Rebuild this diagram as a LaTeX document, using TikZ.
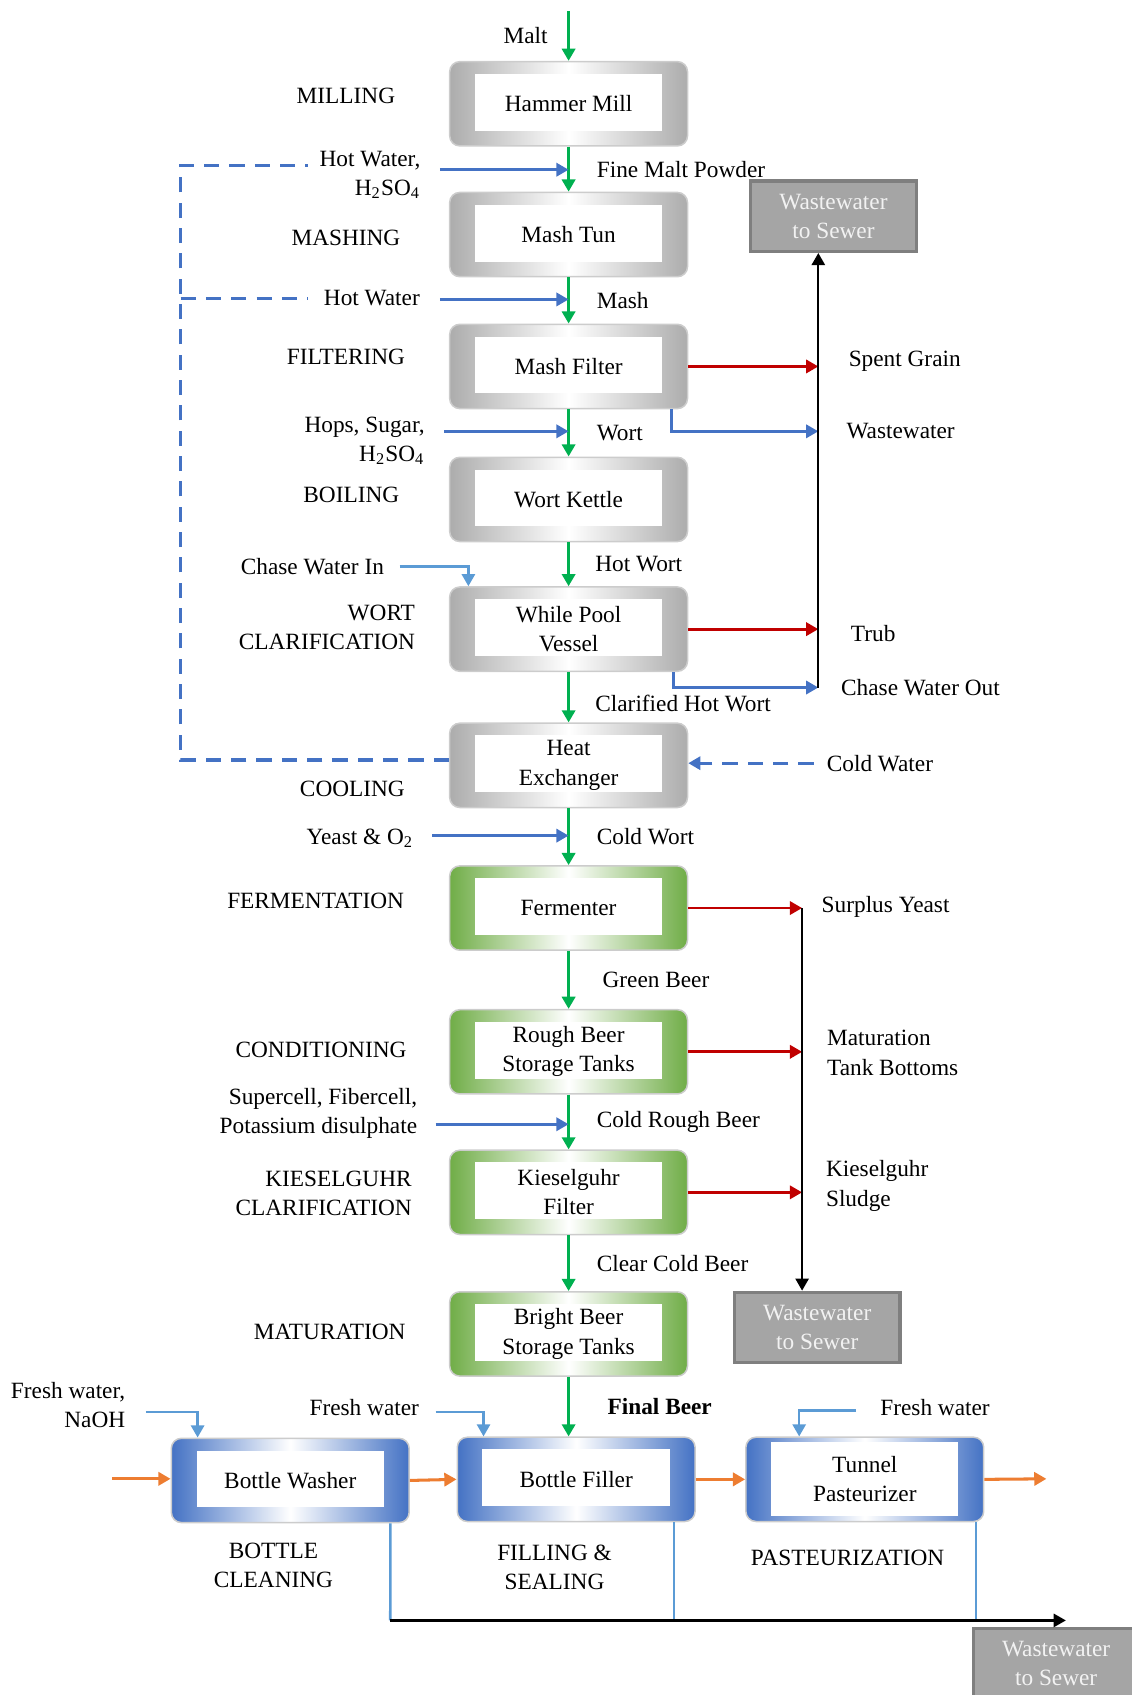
\documentclass[tikz,border=0pt]{standalone}
\usepackage{fontspec}
\setmainfont{Liberation Serif}
\usepackage{xcolor}
\usepackage{tikz}
\usetikzlibrary{arrows.meta, positioning, calc}

\definecolor{flowgreen}{HTML}{00B050}
\definecolor{flowblue}{HTML}{4472C4}
\definecolor{lightblue}{HTML}{5B9BD5}
\definecolor{flowred}{HTML}{C00000}
\definecolor{floworange}{HTML}{ED7D31}
\definecolor{boxgreen}{HTML}{70AD47}
\definecolor{boxblue}{HTML}{4472C4}
\definecolor{sewerfill}{HTML}{A5A5A5}
\definecolor{sewerdraw}{HTML}{7F7F7F}
\colorlet{boxgray}{gray!65}

\begin{document}
\begin{tikzpicture}[
    x=0.015cm, y=-0.015cm,
    font=\fontsize{9.2}{11.5}\selectfont,
    proc/.style={rectangle, rounded corners=4pt, draw=black!20, line width=0.6pt, left color=#1, right color=#1, middle color=white, minimum width=3.3cm, minimum height=1.17cm, align=center, inner sep=2pt,
        path picture={\fill[white, sharp corners] ([xshift=0.35cm,yshift=0.21cm]path picture bounding box.south west) rectangle ([xshift=-0.35cm,yshift=-0.17cm]path picture bounding box.north east);}},
    tunnel/.style={path picture={\fill[white, sharp corners] ([xshift=0.35cm,yshift=0.07cm]path picture bounding box.south west) rectangle ([xshift=-0.35cm,yshift=-0.06cm]path picture bounding box.north east);}},
    sewer/.style={rectangle, fill=sewerfill, draw=sewerdraw, line width=1.3pt, text=black!5, minimum width=2.3cm, minimum height=0.975cm, align=center, inner sep=2pt},
    lbl/.style={align=center, inner sep=2pt, text=black},
    garr/.style={-{Triangle[length=4.8pt, width=5.2pt]}, line width=1.2pt, color=flowgreen},
    barr/.style={-{Triangle[length=4.8pt, width=5.2pt]}, line width=1.1pt, color=flowblue},
    lbarr/.style={-{Triangle[length=4.8pt, width=5.2pt]}, line width=1pt, color=lightblue},
    lbline/.style={line width=1pt, color=lightblue},
    rarr/.style={-{Triangle[length=4.8pt, width=5.2pt]}, line width=1.1pt, color=flowred},
    oarr/.style={-{Triangle[length=4.8pt, width=5.2pt]}, line width=1.2pt, color=floworange},
    karr/.style={-{Triangle[length=4.8pt, width=5.2pt]}, line width=0.9pt, color=black},
    dline/.style={dash pattern=on 6pt off 4pt, line width=1.3pt, color=flowblue}
]
\useasboundingbox (0,0) rectangle (1047,1568);
\clip (0,0) rectangle (1047,1568);

% Process units
\node[proc=boxgray] (mill) at (526,96) {Hammer Mill};
\node[proc=boxgray] (tun) at (526,217) {Mash Tun};
\node[proc=boxgray] (mfilter) at (526,339) {Mash Filter};
\node[proc=boxgray] (kettle) at (526,462) {Wort Kettle};
\node[proc=boxgray] (whirl) at (526,582) {While Pool\\Vessel};
\node[proc=boxgray] (hx) at (526,708) {Heat\\Exchanger};
\node[proc=boxgreen] (ferm) at (526,840) {Fermenter};
\node[proc=boxgreen] (rough) at (526,973) {Rough Beer\\Storage Tanks};
\node[proc=boxgreen] (kfilter) at (526,1103) {Kieselguhr\\Filter};
\node[proc=boxgreen] (bright) at (526,1234) {Bright Beer\\Storage Tanks};
\node[proc=boxblue] (washer) at (268.5,1369.5) {Bottle Washer};
\node[proc=boxblue] (filler) at (533,1368.5) {Bottle Filler};
\node[proc=boxblue, tunnel] (pasteur) at (800,1368.5) {Tunnel\\Pasteurizer};

% Sewer boxes
\node[sewer] (sewer1) at (771,200) {Wastewater\\to Sewer};
\node[sewer] (sewer2) at (756,1228) {Wastewater\\to Sewer};
\node[sewer] (sewer3) at (977,1539) {Wastewater\\to Sewer};

% Stage names
\node[lbl] (stmill) at (320,89) {MILLING};
\node[lbl] (stmash) at (320,220) {MASHING};
\node[lbl] (stfilt) at (320,330) {FILTERING};
\node[lbl] (stboil) at (325,458) {BOILING};
\node[lbl, align=right, anchor=east] (stwort) at (389,580) {WORT\\CLARIFICATION};
\node[lbl] (stcool) at (326,730) {COOLING};
\node[lbl] (stferm) at (292,833) {FERMENTATION};
\node[lbl] (stcond) at (297,971) {CONDITIONING};
\node[lbl, align=right, anchor=east] (stkies) at (386,1104) {KIESELGUHR\\CLARIFICATION};
\node[lbl] (stmat) at (305,1232) {MATURATION};
\node[lbl] (stclean) at (253,1448) {BOTTLE\\CLEANING};
\node[lbl] (stfill) at (513,1450) {FILLING \&\\SEALING};
\node[lbl] (stpast) at (784,1441) {PASTEURIZATION};

% Main product line
\coordinate (maltin) at (526,10);
\draw[garr] (maltin) -- (mill.north) node[lbl, midway, left=0.2cm] {Malt};
\draw[garr] (mill) -- (tun) node[lbl, midway, right=0.3cm] {Fine Malt Powder};
\draw[garr] (tun) -- (mfilter) node[lbl, midway, right=0.3cm] {Mash};
\draw[garr] (mfilter) -- (kettle) node[lbl, midway, right=0.3cm] {Wort};
\draw[garr] (kettle) -- (whirl) node[lbl, midway, right=0.28cm] {Hot Wort};
\draw[garr] (whirl) -- (hx) node[lbl, midway, yshift=-2.5pt, right=0.28cm] {Clarified Hot Wort};
\draw[garr] (hx) -- (ferm) node[lbl, midway, right=0.3cm] {Cold Wort};
\draw[garr] (ferm) -- (rough) node[lbl, midway, right=0.38cm] {Green Beer};
\draw[garr] (rough) -- (kfilter) node[lbl, midway, right=0.3cm] {Cold Rough Beer};
\draw[garr] (kfilter) -- (bright) node[lbl, midway, right=0.3cm] {Clear Cold Beer};
\draw[garr] (bright.south) -- (bright.south |- filler.north) node[lbl, midway, right=0.45cm] {\textbf{Final Beer}};

% Inputs
\node[lbl, align=right, anchor=east] (hwacid) at (394,162) {Hot Water,\\H\textsubscript{2}SO\textsubscript{4}};
\coordinate (hwacidin) at (407,157);
\draw[barr] (hwacidin) -- (hwacidin -| mill.south);
\node[lbl] (hw) at (344,276) {Hot Water};
\coordinate (hwin) at (407,277);
\draw[barr] (hwin) -- (hwin -| tun.south);
\node[lbl, align=right, anchor=east] (hops) at (398,408) {Hops, Sugar,\\H\textsubscript{2}SO\textsubscript{4}};
\coordinate (hopsin) at (411,399);
\draw[barr] (hopsin) -- (hopsin -| mfilter.south);
\node[lbl] (yeast) at (333,775) {Yeast \& O\textsubscript{2}};
\coordinate (yeastin) at (400,773);
\draw[barr] (yeastin) -- (yeastin -| hx.south);
\node[lbl, align=right, anchor=east] (aids) at (391,1030) {Supercell, Fibercell,\\Potassium disulphate};
\coordinate (aidsin) at (403,1040);
\draw[barr] (aidsin) -- (aidsin -| rough.south);
\node[lbl] (cwin) at (289,524) {Chase Water In};
\draw[lbarr] ([xshift=4pt]cwin.east) -| ([xshift=0.27cm]whirl.north west);

% Hot water recycle
\coordinate (loopx) at (167,703);
\coordinate (hwacidstub) at (285,153);
\coordinate (hwstub) at (285,276);
\draw[dline] (hx.west |- loopx) -- (loopx) |- (hwacidstub);
\draw[dline] (loopx |- hwstub) -- (hwstub);
\node[lbl] (coldw) at (814,706) {Cold Water};
\draw[dline, -{Triangle[length=4.8pt, width=5.2pt]}] ([xshift=-3pt]coldw.west) -- (coldw.west -| hx.east);

% Brewhouse wastes
\coordinate (riserA) at (757,636);
\node[lbl, anchor=west] (spent) at (780,334) {Spent Grain};
\node[lbl, anchor=west] (wwout) at (778,399) {Wastewater};
\node[lbl, anchor=west] (trub) at (782,586) {Trub};
\node[lbl, anchor=west] (cwout) at (773,636) {Chase Water Out};
\draw[rarr] (mfilter.east) -- (mfilter.east -| riserA);
\draw[barr] ([xshift=-0.23cm]mfilter.south east) |- (wwout.west -| riserA);
\draw[rarr] (whirl.east) -- (whirl.east -| riserA);
\draw[barr] ([xshift=-0.2cm]whirl.south east) |- (riserA);
\draw[karr] (riserA) -- (riserA |- sewer1.south);

% Cellar wastes
\coordinate (riserB) at (742,840);
\node[lbl, anchor=west] (surplus) at (755,839) {Surplus Yeast};
\node[lbl, anchor=west, align=left] (bottoms) at (760,974) {Maturation\\Tank Bottoms};
\node[lbl, anchor=west, align=left] (sludge) at (759,1097) {Kieselguhr\\Sludge};
\draw[rarr] (ferm.east) -- (ferm.east -| riserB);
\draw[rarr] (rough.east) -- (rough.east -| riserB);
\draw[rarr] (kfilter.east) -- (kfilter.east -| riserB);
\draw[karr] (riserB) -- (riserB |- sewer2.north);

% Packaging
\node[lbl, align=right, anchor=east] (naoh) at (121,1300) {Fresh water,\\NaOH};
\node[lbl] (fresh2) at (337,1302) {Fresh water};
\node[lbl] (fresh3) at (865,1302) {Fresh water};
\coordinate (fw1) at (135,1306);
\coordinate (fw2) at (403,1306);
\coordinate (fw3) at (792,1305);
\draw[lbarr] (fw1) -| ([xshift=0.375cm]washer.north west);
\draw[lbarr] (fw2) -| ([xshift=0.375cm]filler.north west);
\draw[lbarr] (fw3) -| ([xshift=0.75cm]pasteur.north west);

\coordinate (bottlein) at (104,1368);
\coordinate (bottleout) at (968,1368);
\draw[oarr] (bottlein) -- (bottlein -| washer.west);
\draw[oarr] (washer.east) -- (filler.west);
\draw[oarr] (filler.east) -- (pasteur.west);
\draw[oarr] (pasteur.east) -- (bottleout);

\coordinate (drain) at (361,1499);
\coordinate (drainend) at (986,1499);
\coordinate (fdrain) at ([xshift=-0.3cm]filler.south east);
\coordinate (pdrain) at ([xshift=-0.12cm]pasteur.south east);
\draw[lbline] ([xshift=-0.27cm]washer.south east) -- (drain);
\draw[lbline] (fdrain) -- (fdrain |- drain);
\draw[lbline] (pdrain) -- (pdrain |- drain);
\draw[karr] (drain) -- (drainend);

\end{tikzpicture}
\end{document}
